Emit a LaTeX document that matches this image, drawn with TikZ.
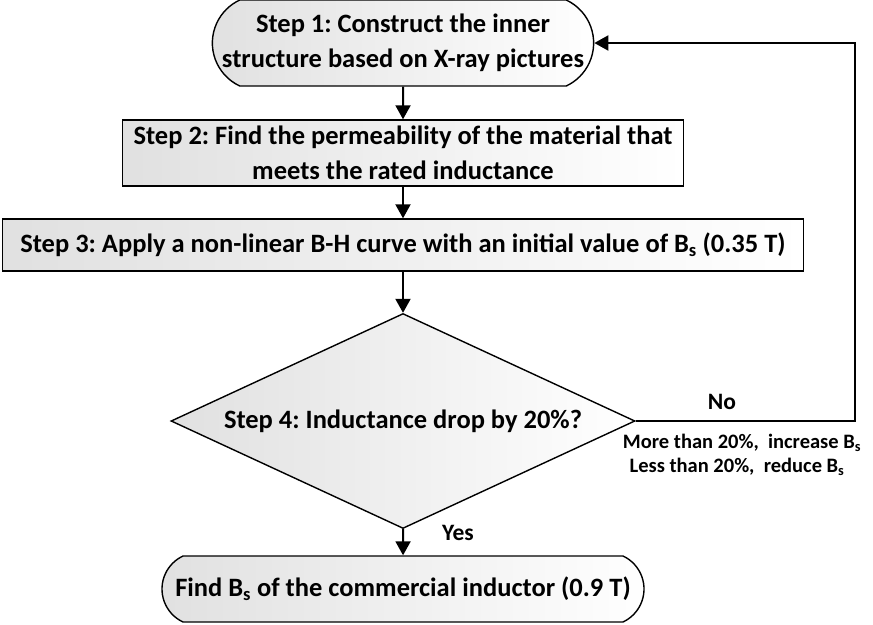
\documentclass[tikz,border=0pt]{standalone}
\usepackage{fontspec}
\setmainfont{Carlito}
\usetikzlibrary{shapes.geometric,shapes.misc,arrows.meta}
\frenchspacing
\begin{document}
\begin{tikzpicture}[x=1pt,y=-1pt,
  every node/.style={font=\bfseries\fontsize{26.5}{34.5}\selectfont},
  grad/.style={left color=black!12, right color=white, draw=black, line width=1.4pt},
  term/.style={grad, rounded rectangle, rounded rectangle arc length=130, inner sep=0pt, align=center},
  proc/.style={grad, rectangle, inner sep=0pt, align=center},
  dec/.style={grad, diamond, inner sep=0pt, aspect=2.16},
  conn/.style={line width=2pt, -{Triangle[length=14pt,width=15pt]}},
  lab/.style={font=\bfseries\fontsize{23.5}{28}\selectfont},
  note/.style={font=\bfseries\fontsize{20.5}{24}\selectfont}]
\useasboundingbox (0,0) rectangle (873,624);
\node[term, minimum width=381pt, minimum height=86pt] (s1) at (403,43) {Step 1: Construct the inner\\structure based on X-ray pictures};
\node[proc, minimum width=561pt, minimum height=66pt] (s2) at (403,153) {Step 2: Find the permeability of the material that\\meets the rated inductance};
\node[proc, minimum width=801pt, minimum height=52pt] (s3) at (403,245) {Step 3: Apply a non-linear B-H curve with an initial value of B\textsubscript{s} (0.35 T)};
\node[dec, minimum width=464pt, minimum height=215pt] (s4) at (403,421) {Step 4: Inductance drop by 20\%?};
\node[term, minimum width=482pt, minimum height=66pt] (s5) at (403,589) {Find B\textsubscript{s} of the commercial inductor (0.9 T)};
\coordinate (c) at (855,43);
\draw[conn] (s1) -- (s2);
\draw[conn] (s2) -- (s3);
\draw[conn] (s3) -- (s4);
\draw[conn] (s4) -- (s5);
\draw[conn] (s4.east) -- (s4.east -| c) -- (c) -- (s1.east);
\node[lab] (no) at (722,402) {No};
\node[lab] (yes) at (458,533) {Yes};
\node[note] (m1) at (742,443) {More than 20\%,\ \ increase B\textsubscript{s}};
\node[note] (m2) at (737,467) {Less than 20\%,\ \ reduce B\textsubscript{s}};
\end{tikzpicture}
\end{document}
